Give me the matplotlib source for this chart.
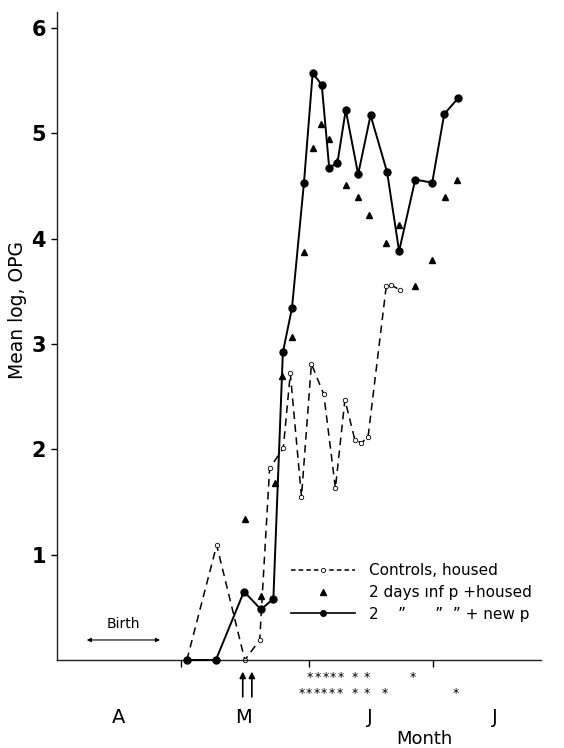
import matplotlib
matplotlib.use("Agg")
import matplotlib.pyplot as plt
from matplotlib.lines import Line2D

# x = days since 1 April
new_p_days = [31.4, 38.4, 45.2, 49.3, 52.3, 54.6, 56.8, 59.7, 61.8, 64.0, 65.8, 67.8,
              69.8, 72.8, 75.8, 79.8, 82.7, 86.6, 90.7, 93.6, 96.9]
new_p_vals = [0, 0, 0.65, 0.48, 0.58, 2.92, 3.34, 4.53, 5.57, 5.46, 4.67, 4.72,
              5.22, 4.61, 5.17, 4.63, 3.88, 4.56, 4.53, 5.18, 5.33]

housed_days = [45.4, 49.3, 52.7, 54.5, 56.7, 59.7, 61.8, 63.7, 65.7, 67.8, 69.8, 72.8,
               75.5, 79.6, 82.7, 86.6, 90.7, 93.7, 96.7]
housed_vals = [1.34, 0.61, 1.68, 2.70, 3.07, 3.87, 4.86, 5.09, 4.94, 4.74, 4.51, 4.39,
               4.22, 3.96, 4.13, 3.55, 3.80, 4.39, 4.56]

control_days = [31.4, 38.6, 45.4, 49.0, 51.4, 54.7, 56.4, 59.1, 61.5, 64.5, 67.3, 69.6,
                72.0, 73.6, 75.2, 79.6, 80.8, 82.9]
control_vals = [0, 1.09, 0, 0.19, 1.82, 2.01, 2.72, 1.55, 2.81, 2.52, 1.63, 2.47,
                2.09, 2.06, 2.12, 3.55, 3.56, 3.51]

month_ticks = [30, 61, 91]
month_labels = ["A", "M", "J", "J"]
month_label_days = [14.9, 45.0, 75.6, 105.8]

stars_row1 = [61.1, 63.1, 65.0, 66.7, 68.5, 72.1, 74.9, 86.1]
stars_row2 = [59.1, 60.9, 62.7, 64.6, 66.4, 68.4, 72.0, 74.8, 79.2, 96.3]
arrow_days = [44.9, 47.1]

fig = plt.figure(figsize=(5.64, 7.48), dpi=100)
ax = fig.add_axes([57/564, 1-660/748, 484/564, (660-12)/748])
ax.set_xlim(0, 117)
ax.set_ylim(0, 6.15)

for s in ["top", "right"]:
    ax.spines[s].set_visible(False)
for s in ["left", "bottom"]:
    ax.spines[s].set_linewidth(1.0)
    ax.spines[s].set_color("#222222")

ax.set_yticks([1, 2, 3, 4, 5, 6])
ax.set_yticklabels(["1", "2", "3", "4", "5", "6"], fontsize=15, fontweight="bold")
ax.tick_params(axis="y", direction="out", length=4, width=1, pad=4)
ax.set_xticks(month_ticks)
ax.set_xticklabels([])
ax.tick_params(axis="x", direction="out", length=5, width=1)

ax.set_ylabel("Mean log, OPG", fontsize=13.5)
ax.yaxis.set_label_coords(-0.062, 0.54)

# series
ax.plot(control_days, control_vals, color="black", lw=1.1, ls=(0, (5, 3.5)),
        marker="o", ms=3.2, mfc="white", mec="black", mew=0.6, clip_on=False, zorder=2)
ax.plot(housed_days, housed_vals, ls="none", marker="^", ms=4.2, color="black",
        clip_on=False, zorder=3)
ax.plot(new_p_days, new_p_vals, color="black", lw=1.4, marker="o", ms=5,
        clip_on=False, zorder=4)

# month labels
for d, lab in zip(month_label_days, month_labels):
    ax.text(d, -0.55, lab, ha="center", va="center", fontsize=14, clip_on=False)
ax.text(88.9, -0.75, "Month", ha="center", va="center", fontsize=13, clip_on=False)

# stars
for d in stars_row1:
    ax.text(d, -0.17, "*", ha="center", va="center", fontsize=9, clip_on=False)
for d in stars_row2:
    ax.text(d, -0.32, "*", ha="center", va="center", fontsize=9, clip_on=False)

# arrows (infection)
for d in arrow_days:
    ax.annotate("", xy=(d, -0.11), xytext=(d, -0.35), xycoords="data",
                arrowprops=dict(arrowstyle="-|>", color="black", lw=1.2,
                                mutation_scale=9, shrinkA=0, shrinkB=0),
                annotation_clip=False)

# birth
ax.annotate("", xy=(7.2, 0.19), xytext=(24.9, 0.19),
            arrowprops=dict(arrowstyle="<|-|>", color="black", lw=0.8,
                            mutation_scale=6, shrinkA=0, shrinkB=0))
ax.text(16.0, 0.34, "Birth", ha="center", va="center", fontsize=10)

handles = [
    Line2D([], [], color="black", lw=1.1, ls=(0, (3, 2)), marker="o", ms=3,
           mfc="white", mec="black", mew=0.6),
    Line2D([], [], ls="none", marker="^", ms=4, color="black"),
    Line2D([], [], color="black", lw=1.2, marker="o", ms=4),
]
labels = ["Controls, housed", "2 days \u0131nf p +housed",
          "2    \u201d      \u201d  \u201d + new p"]
leg = ax.legend(handles, labels, loc="upper left",
                bbox_to_anchor=(291/564, 1-563/748), bbox_transform=fig.transFigure,
                frameon=False, fontsize=11, handlelength=4.2, handletextpad=0.9,
                labelspacing=0.45, borderpad=0, borderaxespad=0)

fig.savefig("out.png", dpi=100)
